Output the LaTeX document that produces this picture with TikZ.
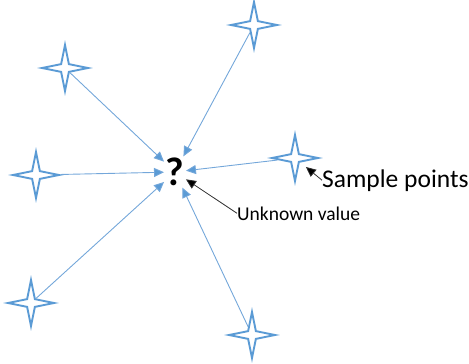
\documentclass[tikz,border=0pt]{standalone}
\usepackage{fontspec}
\setmainfont{Carlito}
\usetikzlibrary{shapes.geometric,arrows.meta}
\definecolor{starblue}{HTML}{5B9BD5}
\definecolor{linkblue}{HTML}{74A7DA}
\definecolor{notegray}{HTML}{303030}
\tikzset{
  sparkle/.style={star, star points=4, star point ratio=4.2, minimum size=46pt,
    inner sep=0pt, draw=starblue, line width=1.9pt, fill=white},
  towards/.style={draw=linkblue, line width=0.9pt,
    -{Triangle[length=10pt,width=9pt,fill=starblue]}},
  pointer/.style={draw=notegray, line width=0.8pt,
    -{Triangle[length=10pt,width=9pt,fill=black]}},
  query/.style={font=\bfseries\fontsize{40}{40}\selectfont, inner sep=1.5pt},
  caption/.style={inner sep=0pt}
}
\begin{document}
\begin{tikzpicture}[x=1pt,y=-1pt]
  \useasboundingbox (0,0) rectangle (469,364);
  % unknown value to be estimated
  \node[query] (q) at (175,172) {?};
  % sample points
  \node[sparkle] (s1) at (65,68) {};
  \node[sparkle] (s2) at (254,25) {};
  \node[sparkle] (s3) at (36,175) {};
  \node[sparkle] (s4) at (295,158) {};
  \node[sparkle] (s5) at (31,303) {};
  \node[sparkle] (s6) at (252,335) {};
  % influence of each sample on the estimate
  \foreach \s in {s1,s2,s3,s4,s5,s6}
    \draw[towards] (\s) -- (q);
  % labels
  \node[caption, anchor=base west, font=\fontsize{25.5}{25.5}\selectfont] (sp) at (322,187) {Sample points};
  \node[caption, anchor=base west, font=\fontsize{19.5}{19.5}\selectfont] (uv) at (237,220) {Unknown value};
  \draw[pointer, shorten >=7pt] (sp.west) -- (s4);
  \draw[pointer] (uv.west) -- (q);
\end{tikzpicture}
\end{document}
